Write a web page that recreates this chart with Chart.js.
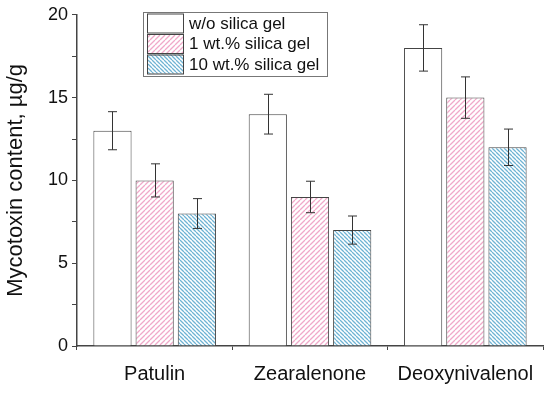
<!DOCTYPE html>
<html>
<head>
<meta charset="utf-8">
<script src="https://cdn.jsdelivr.net/npm/chart.js@4"></script>
<style>
  html, body { margin: 0; padding: 0; background: #fff; }
  #wrap { width: 550px; height: 394px; position: relative; }
</style>
</head>
<body>
<div id="wrap"><canvas id="chart" width="550" height="394"></canvas></div>
<script>
// data
const categories = ["Patulin", "Zearalenone", "Deoxynivalenol"];
const seriesNames = ["w/o silica gel", "1 wt.% silica gel", "10 wt.% silica gel"];
const noGel = [13, 14, 18];
const gel1 = [10, 9, 15];
const gel10 = [8, 7, 12];
const errNoGel = [1.15, 1.2, 1.4];
const errGel1 = [1.0, 0.95, 1.25];
const errGel10 = [0.9, 0.85, 1.1];
const yTicks = [0, 5, 10, 15, 20];

const FONT = "'Liberation Sans', Arial, sans-serif";

function hatch(color, dir, size) {
    const c = document.createElement("canvas");
    c.width = size; c.height = size;
    const g = c.getContext("2d");
    g.fillStyle = "#fff";
    g.fillRect(0, 0, size, size);
    g.strokeStyle = color;
    g.lineWidth = 1.3;
    g.beginPath();
    for (let k = -1; k <= 1; k++) {
        if (dir > 0) { // "/"
            g.moveTo(k * size, size); g.lineTo(k * size + size, 0);
        } else {       // "\"
            g.moveTo(k * size, 0); g.lineTo(k * size + size, size);
        }
    }
    g.stroke();
    return g.createPattern(c, "repeat");
}

const ctx = document.getElementById("chart").getContext("2d");
const pinkFill = hatch("#f0a9c9", 1, 5);
const blueFill = hatch("#6fb3d3", -1, 4);
const fills = ["#ffffff", pinkFill, blueFill];
const errors = [errNoGel, errGel1, errGel10];

const errorBars = {
    id: "errorBars",
    afterDatasetsDraw(chart) {
        const g = chart.ctx;
        const y = chart.scales.y;
        g.save();
        g.strokeStyle = "#333";
        g.lineWidth = 1;
        chart.data.datasets.forEach((ds, i) => {
            chart.getDatasetMeta(i).data.forEach((bar, j) => {
                const v = ds.data[j], e = errors[i][j];
                const x = Math.round(bar.x) + 0.5;
                const top = y.getPixelForValue(v + e), bot = y.getPixelForValue(v - e);
                g.beginPath();
                g.moveTo(x, top); g.lineTo(x, bot);
                g.moveTo(x - 4.5, top); g.lineTo(x + 4.5, top);
                g.moveTo(x - 4.5, bot); g.lineTo(x + 4.5, bot);
                g.stroke();
            });
        });
        g.restore();
    }
};

const legendBox = {
    id: "legendBox",
    afterDraw(chart) {
        const g = chart.ctx;
        const x0 = 143, y0 = 12, w = 184, h = 64;
        g.save();
        g.fillStyle = "#fff";
        g.fillRect(x0, y0, w, h);
        g.strokeStyle = "#777";
        g.lineWidth = 1;
        g.strokeRect(x0 + 0.5, y0 + 0.5, w, h);
        seriesNames.forEach((name, i) => {
            const sy = 13.5 + i * 20.5;
            g.fillStyle = fills[i];
            g.fillRect(147, sy, 36, 19);
            g.strokeStyle = "#444";
            g.strokeRect(147.5, sy + 0.5, 36, 19);
            g.fillStyle = "#111";
            g.font = "17px " + FONT;
            g.textBaseline = "middle";
            g.fillText(name, 189, sy + 10.5);
        });
        g.restore();
    }
};

new Chart(ctx, {
    type: "bar",
    data: {
        labels: categories,
        datasets: [noGel, gel1, gel10].map((d, i) => ({
            label: seriesNames[i],
            data: d,
            backgroundColor: fills[i],
            borderColor: "#444",
            borderWidth: 1,
            borderSkipped: "bottom",
            categoryPercentage: 0.815,
            barPercentage: 0.905
        }))
    },
    options: {
        responsive: false,
        animation: false,
        layout: { padding: { top: 14, right: 7, left: 0, bottom: 0 } },
        plugins: {
            legend: { display: false },
            tooltip: { enabled: false }
        },
        scales: {
            x: {
                grid: { offset: true, drawOnChartArea: false, drawTicks: true, tickLength: 4, color: "#444" },
                border: { color: "#444", width: 1.5 },
                ticks: { color: "#111", font: { family: FONT, size: 20 }, padding: 12 },
                afterFit(s) { s.height = 48; }
            },
            y: {
                min: 0, max: 20,
                grid: { drawOnChartArea: false, drawTicks: true, tickLength: 5, color: "#444" },
                border: { color: "#444", width: 1.5 },
                ticks: {
                    stepSize: 2.5,
                    color: "#111",
                    font: { family: FONT, size: 18 },
                    padding: 4,
                    callback: v => yTicks.includes(v) ? v : ""
                },
                title: {
                    display: true,
                    text: "Mycotoxin content, µg/g",
                    color: "#111",
                    font: { family: FONT, size: 22 },
                    padding: { top: 3, bottom: 3 }
                },
                afterFit(s) { s.width = 77; }
            }
        }
    },
    plugins: [errorBars, legendBox]
});
</script>
</body>
</html>
